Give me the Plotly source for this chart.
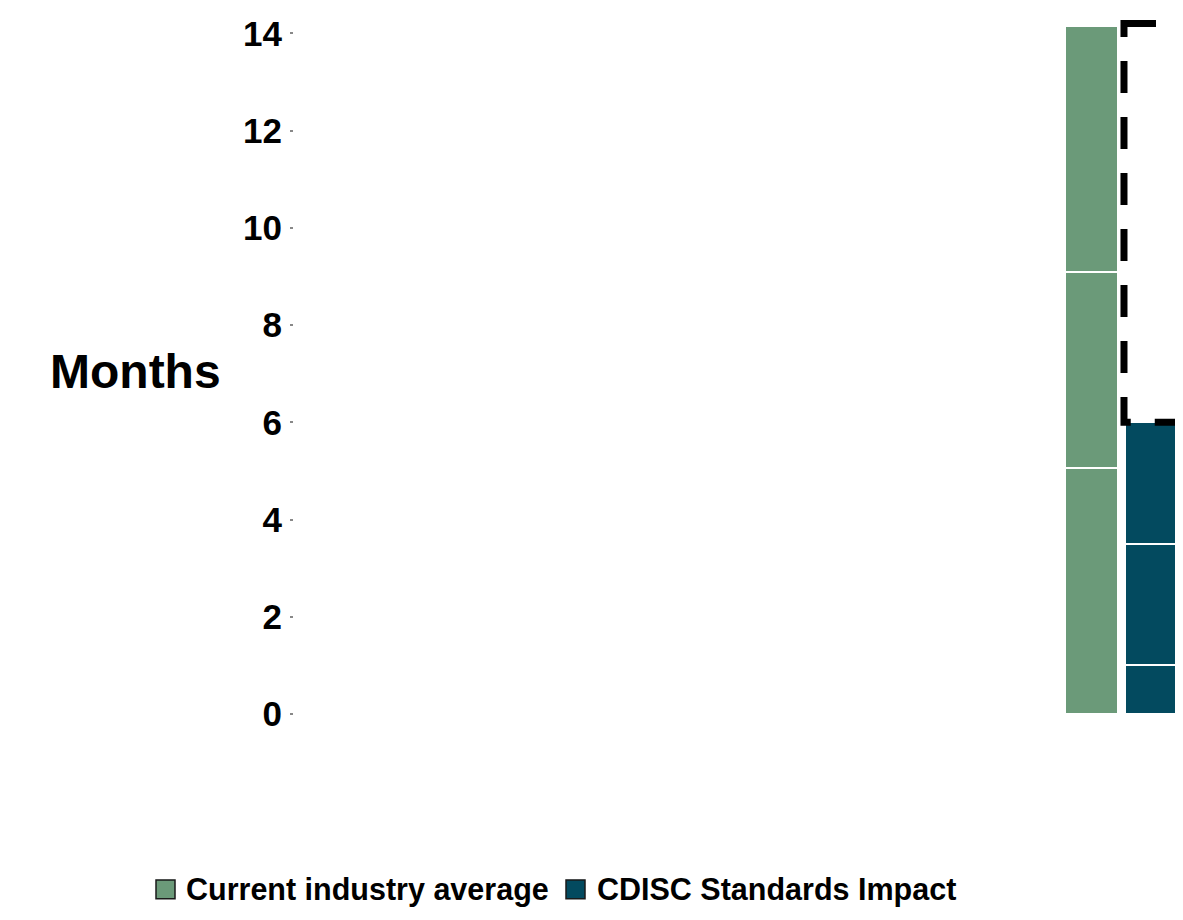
import plotly.graph_objects as go

categories = ["Current industry average", "CDISC Standards Impact"]
phase_1 = [5.05, 1.0]
phase_2 = [4.05, 2.5]
phase_3 = [5.05, 2.5]
projected_top = 14.2
tick_values = [0, 2, 4, 6, 8, 10, 12, 14]

GREEN = "#6B9A79"
TEAL = "#034A5F"
colors = [GREEN, TEAL]
FONT = "Liberation Sans, Arial, sans-serif"
BAR_W = 0.89

# page body has an 8px margin; size the figure so it fits the window
W, H = 1167, 904
PLOT_H = 706.5
L = 286
PW = W - L


def px(fx):
    return (fx - L) / PW


def py(fy):
    return (PLOT_H - fy) / PLOT_H


fig = go.Figure()
for seg in (phase_1, phase_2, phase_3):
    fig.add_trace(go.Bar(
        x=categories, y=seg, width=BAR_W,
        marker=dict(color=colors, line=dict(color="white", width=2)),
        showlegend=False, hoverinfo="skip",
    ))

cdisc_total = phase_1[1] + phase_2[1] + phase_3[1]
fig.add_shape(
    type="rect", xref="x", yref="y",
    x0=1 - 0.463, x1=1 + 0.463, y0=projected_top, y1=cdisc_total,
    line=dict(color="black", width=7, dash="32px,24px"),
    fillcolor="rgba(0,0,0,0)", layer="above",
)

fig.add_annotation(
    text="Months", xref="paper", yref="paper",
    x=px(127), y=py(364),
    xanchor="center", yanchor="middle", showarrow=False,
    font=dict(family=FONT, size=48, color="black", weight="bold"),
)

# legend drawn manually so it can sit close to the bottom edge
legend_sq_left = [148, 558]
legend_txt_left = [177, 588]
LEG_Y = 882
for name, col, sx, tx in zip(categories, colors, legend_sq_left, legend_txt_left):
    fig.add_shape(
        type="rect", xref="paper", yref="paper",
        x0=px(sx), x1=px(sx + 19), y0=py(LEG_Y - 9.5), y1=py(LEG_Y + 9.5),
        fillcolor=col, line=dict(color="#1a1a1a", width=1.5), layer="above",
    )
    fig.add_annotation(
        text=name, xref="paper", yref="paper",
        x=px(tx), y=py(LEG_Y), xanchor="left", yanchor="middle",
        showarrow=False, borderpad=0,
        font=dict(family=FONT, size=30.5, color="black", weight="bold"),
    )

fig.update_layout(
    barmode="stack",
    width=W, height=H,
    margin=dict(l=L, r=0, t=0, b=H - PLOT_H, autoexpand=False),
    paper_bgcolor="white", plot_bgcolor="white",
    showlegend=False,
    xaxis=dict(
        type="category", range=[-13.18, 1.38],
        showticklabels=False, showgrid=False, zeroline=False,
        showline=False, ticks="",
    ),
    yaxis=dict(
        range=[0, 14.52], tickvals=tick_values,
        showgrid=False, zeroline=False, showline=False,
        ticks="outside", ticklen=3, tickwidth=2, tickcolor="#888888",
        ticklabelstandoff=1,
        tickfont=dict(family=FONT, size=35, color="black", weight="bold"),
    ),
    bargap=0.1,
)

fig.write_html("out.html")
